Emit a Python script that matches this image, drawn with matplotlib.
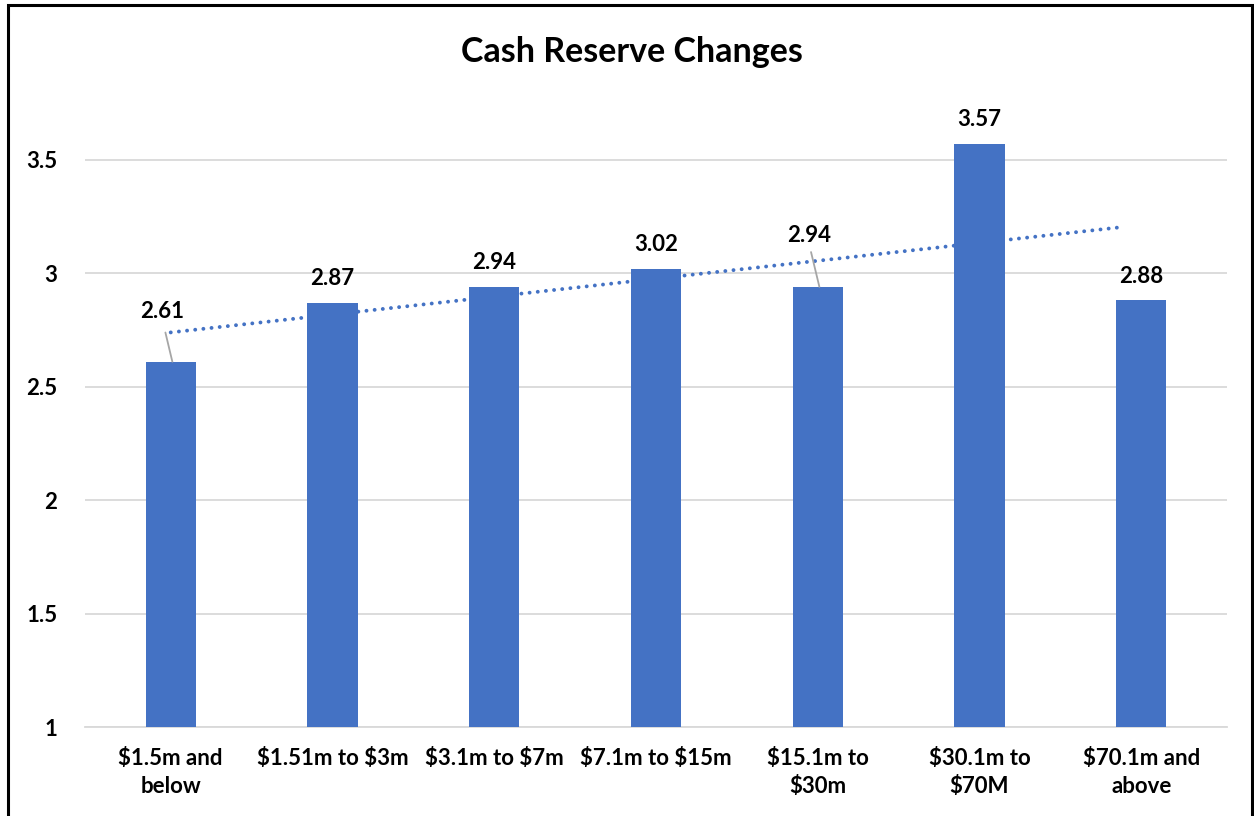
import numpy as np
import matplotlib.pyplot as plt
from matplotlib.patches import Rectangle

plt.rcParams['font.family'] = ['Lato', 'DejaVu Sans']
plt.rcParams['text.parse_math'] = False

# datos del grafico
categorias = ['$1.5m and\nbelow', '$1.51m to $3m', '$3.1m to $7m', '$7.1m to $15m',
              '$15.1m to\n$30m', '$30.1m to\n$70M', '$70.1m and\nabove']
valores = [2.61, 2.87, 2.94, 3.02, 2.94, 3.57, 2.88]
ticks_y = [1, 1.5, 2, 2.5, 3, 3.5]
etiquetas_y = ['1', '1.5', '2', '2.5', '3', '3.5']

azul = '#4472C4'

fig = plt.figure(figsize=(12.54, 8.16), dpi=100)
ax = fig.add_axes([85 / 1254, 89 / 816, 1142 / 1254, 624 / 816])

x = np.arange(len(valores))
ax.bar(x, valores, width=0.31, color=azul, zorder=3)

# linea de tendencia lineal
m, b = np.polyfit(x, valores, 1)
xt = np.array([x[0], x[-1] - 0.15])
ax.plot(xt, m * xt + b, linestyle=(0, (0.01, 2.1)), color=azul, linewidth=2.8,
        dash_capstyle='round', zorder=4)

ax.set_ylim(1, 3.75)
ax.set_xlim(-0.53, len(valores) - 0.47)
ax.set_yticks(ticks_y)
ax.set_yticklabels(etiquetas_y)
ax.set_xticks(x)
ax.set_xticklabels(categorias, linespacing=1.4)
ax.tick_params(axis='both', length=0, labelsize=16)
ax.tick_params(axis='x', pad=15)
ax.tick_params(axis='y', pad=20)
for lab in ax.get_xticklabels() + ax.get_yticklabels():
    lab.set_fontweight('bold')

ax.grid(axis='y', color='#D9D9D9', linewidth=1.3, zorder=0)
for s in ['top', 'right', 'left']:
    ax.spines[s].set_visible(False)
ax.spines['bottom'].set_color('#D9D9D9')
ax.spines['bottom'].set_linewidth(1.3)

# etiquetas de valores (dos con linea guia)
desplaz = {0: (-6.5, 36), 4: (-6, 37)}
guia = {0: (-5, 21), 4: (-6, 25)}
for i, v in enumerate(valores):
    dx, dy = desplaz.get(i, (0, 17.5))
    ax.annotate(f'{v:.2f}', xy=(i, v), xytext=(dx, dy), textcoords='offset points',
                ha='center', va='center', fontsize=16, fontweight='bold', zorder=5)
    if i in guia:
        ax.annotate('', xy=(i + 0.01, v), xytext=guia[i], textcoords='offset points',
                    arrowprops=dict(arrowstyle='-', color='#A6A6A6', lw=1.3,
                                    shrinkA=0, shrinkB=0), zorder=5)

fig.text(632 / 1254, 1 - 52 / 816, 'Cash Reserve Changes', ha='center', va='center',
         fontsize=24.5, fontweight='bold')

# borde de la figura
fig.patches.append(Rectangle((8 / 1254, -0.1), 1244 / 1254, 1.1 - 5 / 816, transform=fig.transFigure,
                             fill=False, edgecolor='black', linewidth=2.2))

plt.savefig('out.png', dpi=100)
plt.close()
